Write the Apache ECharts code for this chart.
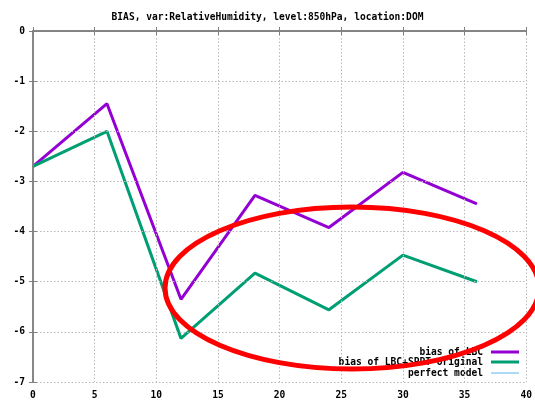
<!DOCTYPE html>
<html>
<head>
<meta charset="utf-8">
<script src="https://cdn.jsdelivr.net/npm/echarts@6/dist/echarts.min.js"></script>
<style>html,body{margin:0;padding:0;background:#fff;}#c{width:535px;height:402px;}</style>
</head>
<body>
<div id="c"></div>
<script>
const titleText = 'BIAS, var:RelativeHumidity, level:850hPa, location:DOM';
const leadTimes = [0, 6, 12, 18, 24, 30, 36];
const biasLBC = [-2.7, -1.45, -5.35, -3.28, -3.92, -2.82, -3.45];
const biasLBCSPPT = [-2.7, -2.0, -6.13, -4.83, -5.56, -4.47, -5.0];
const perfectModel = [0, 0, 0, 0, 0, 0, 0];
const seriesNames = ['bias of LBC', 'bias of LBC+SPPT original', 'perfect model'];

const FONT = '"DejaVu Sans Mono", monospace';
const pairs = (xs, ys) => xs.map((x, i) => [x, ys[i]]);

const chart = echarts.init(document.getElementById('c'), null, {renderer: 'canvas'});
const gridLine = {show: true, lineStyle: {color: '#b8b8b8', type: [1.5, 2], width: 1}};
const axisLine = {show: true, lineStyle: {color: '#808080', width: 1.5}};
const tickIn = {show: true, inside: true, length: 4, lineStyle: {color: '#808080'}};
const legendText = {fontFamily: FONT, fontSize: 9.6, fontWeight: 'bold', color: '#000', padding: [0, 3, 0, 0]};
chart.setOption({
  animation: false,
  backgroundColor: '#fff',
  title: {
    text: titleText, left: 'center', top: 7,
    textStyle: {fontFamily: FONT, fontSize: 9.6, fontWeight: 'bold', color: '#000'}
  },
  grid: {left: 33, right: 5, top: 31, bottom: 20, containLabel: false},
  xAxis: [{
    type: 'value', min: 0, max: 40, interval: 5, position: 'bottom', z: 5,
    axisLine: axisLine, axisTick: tickIn, splitLine: gridLine,
    axisLabel: {fontFamily: FONT, fontSize: 9.6, fontWeight: 'bold', color: '#000', margin: 8}
  }, {
    type: 'value', min: 0, max: 40, interval: 5, position: 'top', z: 5,
    axisLine: axisLine, axisTick: tickIn, splitLine: {show: false}, axisLabel: {show: false}
  }],
  yAxis: [{
    type: 'value', min: -7, max: 0, interval: 1, position: 'left', z: 5,
    axisLine: axisLine, axisTick: tickIn, splitLine: gridLine,
    axisLabel: {fontFamily: FONT, fontSize: 9.6, fontWeight: 'bold', color: '#000', margin: 8}
  }, {
    type: 'value', min: -7, max: 0, interval: 1, position: 'right', z: 5,
    axisLine: axisLine, axisTick: tickIn, splitLine: {show: false}, axisLabel: {show: false}
  }],
  legend: [{
    data: [seriesNames[0], seriesNames[1]],
    orient: 'vertical', align: 'right', right: 16, top: 347, padding: 0,
    itemWidth: 28, itemHeight: 3, itemGap: 0, icon: 'rect',
    textStyle: legendText
  }, {
    data: [seriesNames[2]],
    orient: 'vertical', align: 'right', right: 16, top: 368, padding: 0,
    itemWidth: 28, itemHeight: 1, icon: 'rect',
    textStyle: legendText
  }],
  series: [{
    name: seriesNames[0], type: 'line', data: pairs(leadTimes, biasLBC),
    showSymbol: false, symbol: 'none', color: '#9400D3', lineStyle: {width: 3, color: '#9400D3'}, z: 3
  }, {
    name: seriesNames[1], type: 'line', data: pairs(leadTimes, biasLBCSPPT),
    showSymbol: false, symbol: 'none', color: '#009E73', lineStyle: {width: 3, color: '#009E73'}, z: 3
  }, {
    name: seriesNames[2], type: 'line', data: pairs(leadTimes, perfectModel),
    showSymbol: false, symbol: 'none', color: '#56B4E9', lineStyle: {width: 1, color: '#56B4E9'}, z: 2
  }],
  graphic: [{
    type: 'ellipse', shape: {cx: 352, cy: 288, rx: 187, ry: 81}, z: 100,
    style: {fill: 'none', stroke: '#f00', lineWidth: 5}
  }]
});
</script>
</body>
</html>
